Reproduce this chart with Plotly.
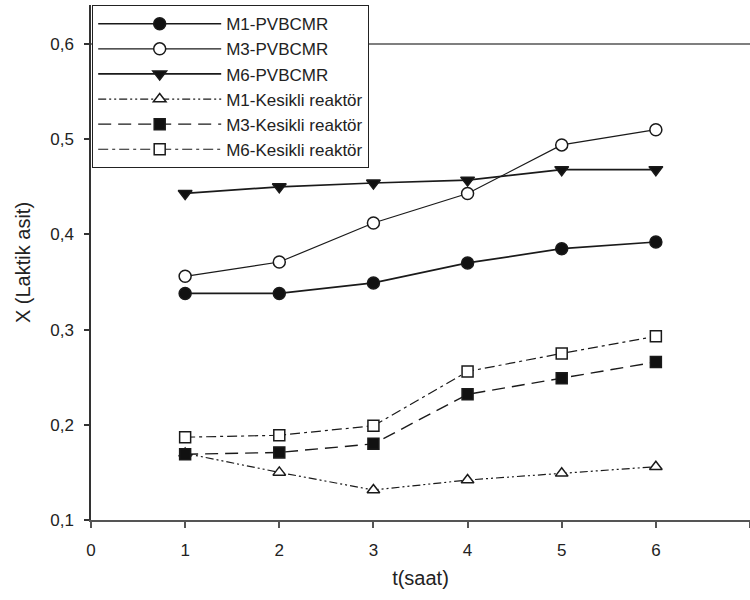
import plotly.graph_objects as go

t = [1, 2, 3, 4, 5, 6]
m1_pvbcmr = [0.338, 0.338, 0.349, 0.370, 0.385, 0.392]
m3_pvbcmr = [0.356, 0.371, 0.412, 0.443, 0.494, 0.510]
m6_pvbcmr = [0.443, 0.450, 0.454, 0.457, 0.468, 0.468]
m1_kesikli = [0.170, 0.150, 0.1315, 0.142, 0.149, 0.156]
m3_kesikli = [0.169, 0.171, 0.180, 0.232, 0.249, 0.266]
m6_kesikli = [0.187, 0.189, 0.199, 0.256, 0.275, 0.293]
y_ticks = [0.1, 0.2, 0.3, 0.4, 0.5, 0.6]
x_ticks = [0, 1, 2, 3, 4, 5, 6, 7]

names = ["M1-PVBCMR", "M3-PVBCMR", "M6-PVBCMR",
         "M1-Kesikli reaktör", "M3-Kesikli reaktör", "M6-Kesikli reaktör"]
series = [m1_pvbcmr, m3_pvbcmr, m6_pvbcmr, m1_kesikli, m3_kesikli, m6_kesikli]
symbols = ["circle", "circle", "triangle-down", "triangle-up", "square", "square"]
fills = ["#111", "white", "#111", "white", "#111", "white"]
dashes = ["solid", "solid", "solid", "8px,3px,2px,3px,2px,3px", "13px,7px", "10px,4px,3px,4px"]
widths = [1.7, 1.2, 1.7, 1.2, 1.4, 1.2]
sizes = [12, 12, 12, 11, 11, 11]

fig = go.Figure()
for n, y, s, f, d, w, sz in zip(names, series, symbols, fills, dashes, widths, sizes):
    fig.add_trace(go.Scatter(
        x=t, y=y, name=n, mode="lines+markers",
        line=dict(color="#1a1a1a", width=w, dash=d),
        marker=dict(symbol=s, size=sz, color=f,
                    line=dict(color="#1a1a1a", width=1.5)),
    ))

font = "Liberation Sans, Arial, sans-serif"
y_top = 0.6 + 39 / 952  # room above 0.6 for the legend box
fig.update_layout(
    width=750, height=600,
    margin=dict(l=91, r=0, t=5, b=80, autoexpand=False),
    paper_bgcolor="white", plot_bgcolor="white",
    font=dict(family=font, size=17, color="#222"),
    separators=",.",
    showlegend=True,
    legend=dict(x=0.0015, y=1.0, xanchor="left", yanchor="top",
                bgcolor="white", bordercolor="#222", borderwidth=1.2,
                font=dict(family=font, size=17, color="#222"),
                itemwidth=123, tracegroupgap=0),
    xaxis=dict(range=[0, 7], tickvals=x_ticks, showgrid=False, zeroline=False,
               automargin=False,
               showline=True, linecolor="#555", linewidth=2, mirror=False,
               ticks="outside", ticklen=6, tickcolor="#555", tickwidth=1.5,
               ticklabelstandoff=8,
               title=dict(text="t(saat)", font=dict(size=20), standoff=12),
               tickfont=dict(size=17)),
    yaxis=dict(range=[0.1, y_top], tickvals=y_ticks, showgrid=False, zeroline=False,
               automargin=False,
               showline=True, linecolor="#333", linewidth=1.5,
               ticks="outside", ticklen=5, tickcolor="#333", tickwidth=1.5,
               ticklabelstandoff=7,
               tickformat=".1f",
               title=dict(text="X (Laktik asit)", font=dict(size=20), standoff=14),
               tickfont=dict(size=17)),
)
fig.add_shape(type="line", xref="paper", yref="y", x0=0, x1=1, y0=y_ticks[-1], y1=y_ticks[-1],
              line=dict(color="#555", width=1.5), layer="below")
fig.write_html("out.html", config={"displayModeBar": False},
               post_script="document.body.style.margin='0';document.body.style.padding='0';")
